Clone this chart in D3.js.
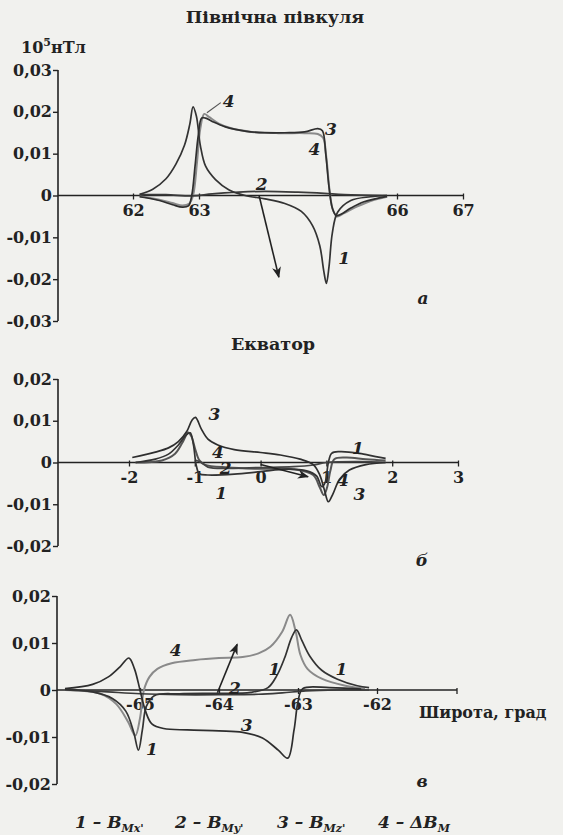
<html>
<head>
<meta charset="utf-8" />
<title>Magnetic field</title>
<script src="https://d3js.org/d3.v7.min.js"></script>
<style>
    body { margin: 0; background: #f1f1ee; }
    svg { display: block; }
    text { font-family: "DejaVu Serif", serif; fill: #222; }
    .tick-label { font-size: 16px; font-weight: bold; }
    .title { font-size: 17.5px; font-weight: bold; }
    .curve-label { font-size: 17px; font-style: italic; font-weight: bold; }
    .legend-text { font-size: 17px; font-style: italic; font-weight: bold; }
</style>
</head>
<body>
<svg id="chart" width="563" height="835"></svg>
<script>
// ---- data ----
const yTicksA = [-0.03, -0.02, -0.01, 0, 0.01, 0.02, 0.03]
const xTicksA = [62, 63, 66, 67]
const curvesA = {
    1: [[62.1, 0.0003], [62.3, 0.0015], [62.5, 0.004], [62.65, 0.0075], [62.78, 0.012], [62.86, 0.017], [62.91, 0.0212], [62.96, 0.019], [63.02, 0.012], [63.1, 0.007], [63.25, 0.0038], [63.45, 0.0014], [63.7, 0.0], [64.0, -0.0008], [64.3, -0.0019], [64.55, -0.0038], [64.72, -0.0072], [64.83, -0.012], [64.89, -0.018], [64.93, -0.021], [64.97, -0.017], [65.02, -0.009], [65.1, -0.004], [65.3, -0.0012], [65.6, -0.0003], [65.85, 0.0]],
    2: [[62.1, 0.0002], [62.5, 0.0002], [62.9, -0.0001], [63.2, 0.0004], [63.6, 0.0008], [64.0, 0.001], [64.5, 0.0008], [64.9, 0.0005], [65.2, 0.0002], [65.85, 0.0]],
    3: [[62.1, -0.0003], [62.4, -0.0012], [62.6, -0.0022], [62.75, -0.0028], [62.84, -0.0025], [62.89, 0.0], [62.94, 0.007], [62.99, 0.0145], [63.04, 0.0185], [63.1, 0.0185], [63.2, 0.0177], [63.4, 0.0164], [63.7, 0.0154], [64.0, 0.015], [64.3, 0.015], [64.6, 0.0152], [64.8, 0.016], [64.87, 0.0155], [64.92, 0.01], [64.97, 0.002], [65.02, -0.003], [65.08, -0.0048], [65.15, -0.0045], [65.3, -0.003], [65.5, -0.0015], [65.85, -0.0002]],
    4: [[62.1, -0.0002], [62.4, -0.001], [62.6, -0.0018], [62.75, -0.0024], [62.85, -0.002], [62.91, 0.0], [62.97, 0.008], [63.02, 0.016], [63.08, 0.0195], [63.15, 0.0188], [63.3, 0.0172], [63.5, 0.016], [63.8, 0.0152], [64.2, 0.0149], [64.6, 0.0149], [64.8, 0.0147], [64.88, 0.0138], [64.93, 0.009], [64.98, 0.001], [65.03, -0.0035], [65.09, -0.005], [65.2, -0.0042], [65.4, -0.0026], [65.6, -0.0013], [65.85, -0.0003]]
}
const arrowA = [[63.91, 0.0], [64.21, -0.0195]]
const labelsA = [["4", 63.45, 0.0225], ["3", 65.0, 0.016], ["4", 64.75, 0.011], ["2", 63.95, 0.0028], ["1", 65.2, -0.015]]

const yTicksB = [-0.02, -0.01, 0, 0.01, 0.02]
const xTicksB = [-2, -1, 0, 1, 2, 3]
const curvesB = {
    1: [[-1.9, 0.0], [-1.6, 0.0008], [-1.4, 0.002], [-1.25, 0.0042], [-1.13, 0.0066], [-1.07, 0.0071], [-1.02, 0.0042], [-0.98, -0.0005], [-0.93, -0.0027], [-0.8, -0.003], [-0.4, -0.0028], [0.0, -0.0022], [0.4, -0.0016], [0.7, -0.002], [0.85, -0.0032], [0.93, -0.0058], [0.98, -0.0048], [1.03, 0.0], [1.08, 0.0022], [1.2, 0.0026], [1.5, 0.0022], [1.75, 0.0014], [1.9, 0.001]],
    2: [[-1.0, 0.0006], [-0.9, 0.0], [-0.8, -0.0011], [-0.5, -0.0014], [0.0, -0.0012], [0.5, -0.001], [0.8, -0.0006], [1.0, 0.0], [1.5, 0.0002], [1.9, 0.0]],
    3: [[-1.95, 0.0012], [-1.6, 0.0025], [-1.4, 0.0035], [-1.25, 0.005], [-1.12, 0.0075], [-1.04, 0.0102], [-0.99, 0.0108], [-0.9, 0.008], [-0.8, 0.0056], [-0.65, 0.0042], [-0.4, 0.0031], [0.0, 0.0024], [0.3, 0.0018], [0.6, 0.0008], [0.8, -0.0005], [0.9, -0.003], [0.97, -0.0066], [1.03, -0.0094], [1.1, -0.0075], [1.2, -0.004], [1.35, -0.0018], [1.6, -0.0005], [1.9, 0.0]],
    4: [[-1.9, 0.0], [-1.5, 0.0005], [-1.3, 0.0021], [-1.18, 0.005], [-1.1, 0.0072], [-1.05, 0.0062], [-0.99, 0.003], [-0.93, 0.0005], [-0.85, -0.0005], [-0.5, -0.0012], [0.0, -0.0015], [0.5, -0.0016], [0.8, -0.003], [0.9, -0.006], [0.96, -0.0078], [1.01, -0.006], [1.06, -0.002], [1.12, 0.0008], [1.3, 0.0012], [1.6, 0.0008], [1.9, 0.0005]]
}
const arrowB = [[0.0, -0.0005], [0.72, -0.0034]]
const labelsB = [["3", -0.7, 0.0115], ["4", -0.65, 0.0025], ["2", -0.53, -0.0012], ["1", -0.6, -0.0072], ["1", 1.48, 0.0035], ["4", 1.25, -0.0042], ["3", 1.5, -0.0075]]

const yTicksC = [-0.02, -0.01, 0, 0.01, 0.02]
const xTicksC = [-65, -64, -63, -62]
const curvesC = {
    1: [[-65.95, 0.0002], [-65.6, -0.0004], [-65.35, -0.0018], [-65.18, -0.0045], [-65.08, -0.009], [-65.02, -0.0128], [-64.97, -0.0085], [-64.92, -0.0035], [-64.82, -0.0012], [-64.5, -0.0008], [-64.0, -0.0007], [-63.6, -0.0005], [-63.38, 0.0005], [-63.27, 0.003], [-63.17, 0.0068], [-63.08, 0.0112], [-63.02, 0.0128], [-62.95, 0.0105], [-62.85, 0.0072], [-62.7, 0.0042], [-62.5, 0.0023], [-62.25, 0.0009], [-62.1, 0.0005]],
    2: [[-65.95, 0.0], [-65.5, -0.0003], [-65.0, -0.0008], [-64.5, -0.001], [-64.0, -0.001], [-63.5, -0.0009], [-63.2, -0.0006], [-62.9, -0.0002], [-62.5, 0.0], [-62.1, 0.0]],
    3: [[-65.95, 0.0003], [-65.6, 0.0012], [-65.4, 0.0028], [-65.25, 0.005], [-65.14, 0.0068], [-65.07, 0.0045], [-65.0, 0.0], [-64.93, -0.0045], [-64.85, -0.0072], [-64.7, -0.0082], [-64.4, -0.0085], [-64.0, -0.0087], [-63.7, -0.009], [-63.45, -0.0102], [-63.25, -0.0128], [-63.13, -0.0145], [-63.05, -0.0085], [-63.0, -0.0025], [-62.94, 0.0003], [-62.6, 0.0005], [-62.2, 0.0002]],
    4: [[-65.95, 0.0], [-65.5, -0.0008], [-65.3, -0.003], [-65.15, -0.0068], [-65.06, -0.0097], [-65.0, -0.006], [-64.95, 0.0], [-64.88, 0.0028], [-64.78, 0.0045], [-64.6, 0.0057], [-64.3, 0.0064], [-64.0, 0.0068], [-63.7, 0.007], [-63.5, 0.0078], [-63.35, 0.0092], [-63.2, 0.0124], [-63.1, 0.016], [-63.03, 0.0125], [-62.97, 0.0075], [-62.88, 0.0045], [-62.7, 0.0024], [-62.4, 0.0009], [-62.15, 0.0003]]
}
const arrowC = [[-64.02, -0.0006], [-63.77, 0.0097]]
const labelsC = [["4", -64.55, 0.0085], ["2", -63.8, 0.0005], ["3", -63.65, -0.0075], ["1", -64.85, -0.0125], ["1", -63.3, 0.0045], ["1", -62.45, 0.0045]]

const legendItems = [["1", "Mx'"], ["2", "My'"], ["3", "Mz'"], ["4", "M"]]

// ---- drawing ----
const svg = d3.select("svg#chart")
const fmtLocale = d3.formatLocale({ decimal: ",", thousands: " ", grouping: [3], currency: ["", ""], minus: "-" })
const yFmt = d => d === 0 ? "0" : fmtLocale.format(".2f")(d)

svg.append("defs").append("marker")
    .attr("id", "arrowhead")
    .attr("viewBox", "0 0 10 10")
    .attr("refX", 9).attr("refY", 5)
    .attr("markerWidth", 7).attr("markerHeight", 7)
    .attr("orient", "auto")
    .append("path").attr("d", "M0,1 L10,5 L0,9 L3,5 Z").attr("fill", "#222")

const curveColors = { 1: "#333", 2: "#3a3a3a", 3: "#2e2e2e", 4: "#8a8a8a" }

const drawPanel = function (cfg) {
    const g = svg.append("g").attr("class", "panel")
    const x = d3.scaleLinear().domain(cfg.xDomain).range(cfg.xRange)
    const y = d3.scaleLinear().domain(cfg.yDomain).range(cfg.yRange)

    // y axis
    const yAxis = d3.axisLeft(y).tickValues(cfg.yTicks).tickSize(5).tickFormat(yFmt)
    const ya = g.append("g").attr("transform", `translate(${cfg.axisX},0)`).call(yAxis)
    ya.select(".domain").attr("d", `M0,${y(cfg.yDomain[1])}V${y(cfg.yDomain[0])}`)
        .attr("stroke", "#222").attr("stroke-width", 1.6)
    ya.selectAll(".tick line").attr("stroke", "#222").attr("stroke-width", 1.4)
    ya.selectAll(".tick text").attr("class", "tick-label").attr("x", -6).attr("font-family", null).attr("font-size", null)

    // x axis through zero
    const xAxis = d3.axisBottom(x).tickValues(cfg.xTicks).tickSize(4).tickFormat(d => fmtLocale.format("d")(d))
    const xa = g.append("g").attr("transform", `translate(0,${y(0)})`).call(xAxis)
    xa.select(".domain").attr("d", `M${cfg.axisX},0H${cfg.axisEnd}`)
        .attr("stroke", "#222").attr("stroke-width", 1.6)
    xa.selectAll(".tick line").attr("stroke", "#222").attr("stroke-width", 1.3).attr("y1", -2)
    xa.selectAll(".tick text").attr("class", "tick-label").attr("y", 9).attr("font-family", null).attr("font-size", null)
    if (cfg.extraEndTick) {
        xa.append("line").attr("x1", cfg.axisEnd).attr("x2", cfg.axisEnd).attr("y1", -2).attr("y2", 4)
            .attr("stroke", "#222").attr("stroke-width", 1.3)
    }

    // curves (4 first so darker ones lie over it)
    const line = d3.line().x(d => x(d[0])).y(d => y(d[1])).curve(d3.curveCatmullRom.alpha(0.5))
    const order = ["4", "2", "1", "3"]
    g.selectAll("path.curve").data(order.map(k => ({ key: k, pts: cfg.curves[k] })))
        .join("path").attr("class", d => `curve c${d.key}`)
        .attr("d", d => line(d.pts))
        .attr("fill", "none")
        .attr("stroke", d => (cfg.colors || curveColors)[d.key])
        .attr("stroke-width", d => d.key === "4" ? 2 : 1.7)
        .attr("stroke-linejoin", "round")

    // arrow
    g.append("line")
        .attr("x1", x(cfg.arrow[0][0])).attr("y1", y(cfg.arrow[0][1]))
        .attr("x2", x(cfg.arrow[1][0])).attr("y2", y(cfg.arrow[1][1]))
        .attr("stroke", "#222").attr("stroke-width", 1.6)
        .attr("marker-end", "url(#arrowhead)")

    // curve labels
    g.selectAll("text.curve-label").data(cfg.labels)
        .join("text").attr("class", "curve-label")
        .attr("x", d => x(d[1])).attr("y", d => y(d[2]))
        .attr("text-anchor", "middle").attr("dominant-baseline", "central")
        .text(d => d[0])

    return { x, y, g }
}

// panel a
svg.append("text").attr("class", "title").attr("x", 275).attr("y", 23).attr("text-anchor", "middle").text("Північна півкуля")
const unit = svg.append("text").attr("class", "tick-label").attr("x", 21).attr("y", 53)
unit.append("tspan").text("10")
unit.append("tspan").attr("dy", -7).attr("font-size", 11).text("5")
unit.append("tspan").attr("dy", 7).text("нТл")

const pa = drawPanel({
    xDomain: [62, 67], xRange: [133, 463], yDomain: [-0.03, 0.03], yRange: [321, 70],
    axisX: 58, axisEnd: 463, yTicks: yTicksA, xTicks: xTicksA,
    curves: curvesA, arrow: arrowA, labels: labelsA
})
// leader line for top "4"
pa.g.append("line").attr("x1", pa.x(63.12)).attr("y1", pa.y(0.0198)).attr("x2", pa.x(63.33)).attr("y2", pa.y(0.0222))
    .attr("stroke", "#555").attr("stroke-width", 1.2)

// panel b
svg.append("text").attr("class", "title").attr("x", 273).attr("y", 350).attr("text-anchor", "middle").text("Екватор")
drawPanel({
    xDomain: [-2, 3], xRange: [129, 458], yDomain: [-0.02, 0.02], yRange: [546, 379],
    axisX: 58, axisEnd: 458, yTicks: yTicksB, xTicks: xTicksB,
    curves: curvesB, arrow: arrowB, labels: labelsB,
    colors: { 1: "#333", 2: "#444", 3: "#2e2e2e", 4: "#555" }
})

// panel c
drawPanel({
    xDomain: [-65, -62], xRange: [140, 377], yDomain: [-0.02, 0.02], yRange: [784, 596],
    axisX: 57, axisEnd: 457, yTicks: yTicksC, xTicks: xTicksC,
    curves: curvesC, arrow: arrowC, labels: labelsC, extraEndTick: true
})
svg.append("text").attr("class", "tick-label").attr("x", 419).attr("y", 718).attr("font-size", 17).text("Широта, град")

// panel letters
const letters = [["а", 423, 304], ["б", 422, 566], ["в", 422, 787]]
svg.selectAll("text.letter").data(letters).join("text").attr("class", "letter curve-label")
    .attr("x", d => d[1]).attr("y", d => d[2]).attr("text-anchor", "middle").text(d => d[0])

// legend
const legendX = [75, 175, 277, 378]
const leg = svg.selectAll("text.legend-text").data(legendItems).join("text").attr("class", "legend-text")
    .attr("x", (d, i) => legendX[i]).attr("y", 828)
leg.append("tspan").text(d => d[0] === "4" ? `${d[0]} – ΔB` : `${d[0]} – B`)
leg.append("tspan").attr("dy", 4).attr("font-size", 11).text(d => d[1])
</script>
</body>
</html>
